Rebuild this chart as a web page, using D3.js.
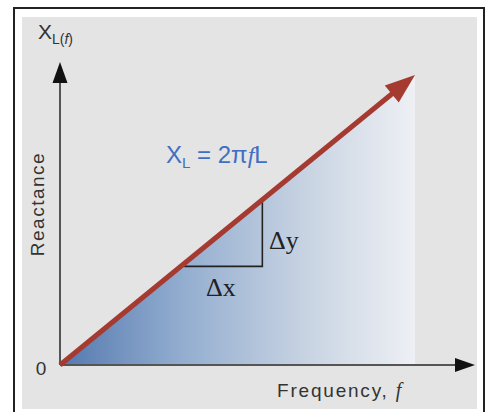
<!DOCTYPE html>
<html>
<head>
<meta charset="utf-8">
<script src="https://cdn.jsdelivr.net/npm/d3@7"></script>
<style>
  html, body { margin: 0; padding: 0; background: #ffffff; }
  svg { display: block; }
</style>
</head>
<body>
<svg id="chart" width="487" height="412"></svg>
<script>
// Inductive reactance grows linearly with frequency: X_L = 2πfL
const frequency = [0, 10];
const reactance = [0, 10];
// Slope triangle: Δx from f = 3.5 to 5.7, drawn at X_L = 3.4
const deltaFreq = [3.5, 5.7];
const deltaBase = 3.4;
const zeroLabel = ["0"];

const svg = d3.select("#chart");

const x = d3.scaleLinear().domain([0, 10]).range([60, 415]);
const y = d3.scaleLinear().domain([0, 10]).range([365, 75]);

// frame and panel
svg.append("rect").attr("x", 14).attr("y", 8).attr("width", 470).attr("height", 420)
  .attr("fill", "#ffffff").attr("stroke", "#222").attr("stroke-width", 2);
svg.append("rect").attr("x", 22).attr("y", 17).attr("width", 455).attr("height", 392)
  .attr("fill", "#e4e4e4");

// blue gradient under the reactance line
const defs = svg.append("defs");
const grad = defs.append("linearGradient").attr("id", "fillGrad")
  .attr("x1", "0%").attr("x2", "100%").attr("y1", "0%").attr("y2", "0%");
grad.append("stop").attr("offset", "0%").attr("stop-color", "#5479af");
grad.append("stop").attr("offset", "35%").attr("stop-color", "#94aed0");
grad.append("stop").attr("offset", "70%").attr("stop-color", "#c9d4e3");
grad.append("stop").attr("offset", "100%").attr("stop-color", "#eef0f4");

const pts = frequency.map((f, i) => [f, reactance[i]]);
const area = d3.area()
  .x(d => x(d[0]))
  .y0(y(0))
  .y1(d => y(d[1]));
svg.append("path").datum(pts).attr("d", area).attr("fill", "url(#fillGrad)");

// slope triangle (Δx, Δy)
const slopeAt = f => f * (reactance[1] - reactance[0]) / (frequency[1] - frequency[0]);
svg.append("path")
  .attr("d", d3.line()([
    [x(deltaFreq[0]), y(deltaBase)],
    [x(deltaFreq[1]), y(deltaBase)],
    [x(deltaFreq[1]), y(slopeAt(deltaFreq[1]))]
  ]))
  .attr("fill", "none").attr("stroke", "#222").attr("stroke-width", 1.6);

// axes with arrow heads
const axisColor = "#555";
const axisEndX = 475, axisEndY = 62;
svg.append("line").attr("x1", x(0)).attr("y1", y(0)).attr("x2", axisEndX - 14).attr("y2", y(0))
  .attr("stroke", axisColor).attr("stroke-width", 2);
svg.append("line").attr("x1", x(0)).attr("y1", y(0)).attr("x2", x(0)).attr("y2", axisEndY + 16)
  .attr("stroke", axisColor).attr("stroke-width", 2);
svg.append("path")
  .attr("d", `M${axisEndX},${y(0)} L${axisEndX - 20},${y(0) - 7} L${axisEndX - 20},${y(0) + 7} Z`)
  .attr("fill", "#111");
svg.append("path")
  .attr("d", `M${x(0)},${axisEndY} L${x(0) - 7.5},${axisEndY + 21} L${x(0) + 7.5},${axisEndY + 21} Z`)
  .attr("fill", "#111");

// reactance line with arrow head
const tip = [x(frequency[1]), y(reactance[1])];
const start = [x(frequency[0]), y(reactance[0])];
const ang = Math.atan2(tip[1] - start[1], tip[0] - start[0]);
const headLen = 30, headHalf = 11;
const baseC = [tip[0] - headLen * Math.cos(ang), tip[1] - headLen * Math.sin(ang)];
const nx = -Math.sin(ang), ny = Math.cos(ang);
svg.append("line")
  .attr("x1", start[0]).attr("y1", start[1])
  .attr("x2", baseC[0] + 2 * Math.cos(ang)).attr("y2", baseC[1] + 2 * Math.sin(ang))
  .attr("stroke", "#a53a30").attr("stroke-width", 5);
svg.append("path")
  .attr("d", d3.line()([
    tip,
    [baseC[0] + headHalf * nx, baseC[1] + headHalf * ny],
    [baseC[0] - headHalf * nx, baseC[1] - headHalf * ny]
  ]) + "Z")
  .attr("fill", "#a53a30");

// labels
const sans = "'Liberation Sans', Arial, sans-serif";
const serif = "'Liberation Serif', 'Times New Roman', serif";

const yl = svg.append("text").attr("x", 38).attr("y", 39)
  .attr("font-family", sans).attr("font-size", 21).attr("fill", "#333");
yl.append("tspan").text("X");
yl.append("tspan").attr("font-size", 14).attr("dy", 5).text("L(");
yl.append("tspan").attr("font-size", 14).attr("font-style", "italic").text("f");
yl.append("tspan").attr("font-size", 14).text(")");

svg.append("text")
  .attr("transform", `translate(44, 204) rotate(-90)`)
  .attr("text-anchor", "middle")
  .attr("font-family", sans).attr("font-size", 19).attr("fill", "#333")
  .attr("letter-spacing", 1.5)
  .text("Reactance");

svg.selectAll("text.zero").data(zeroLabel).enter().append("text")
  .attr("class", "zero")
  .attr("x", 41).attr("y", y(0) + 10)
  .attr("text-anchor", "middle")
  .attr("font-family", sans).attr("font-size", 19).attr("fill", "#333")
  .text(d => d);

const xl = svg.append("text").attr("x", 277).attr("y", 397)
  .attr("font-family", sans).attr("font-size", 19).attr("fill", "#333")
  .attr("letter-spacing", 1.8);
xl.append("tspan").text("Frequency, ");
xl.append("tspan").attr("font-style", "italic").attr("font-family", serif).attr("font-size", 20).text("f");

const eq = svg.append("text").attr("x", 166).attr("y", 163)
  .attr("font-family", sans).attr("font-size", 24).attr("fill", "#3f6fc2");
eq.append("tspan").text("X");
eq.append("tspan").attr("font-size", 15).attr("dy", 5).text("L");
eq.append("tspan").attr("dy", -5).text(" = 2π");
eq.append("tspan").attr("font-style", "italic").attr("font-family", serif).text("f");
eq.append("tspan").text("L");

svg.append("text").attr("x", 269).attr("y", 249)
  .attr("font-family", serif).attr("font-size", 26).attr("fill", "#222")
  .text("Δy");
svg.append("text").attr("x", 206).attr("y", 296)
  .attr("font-family", serif).attr("font-size", 26).attr("fill", "#222")
  .text("Δx");
</script>
</body>
</html>
